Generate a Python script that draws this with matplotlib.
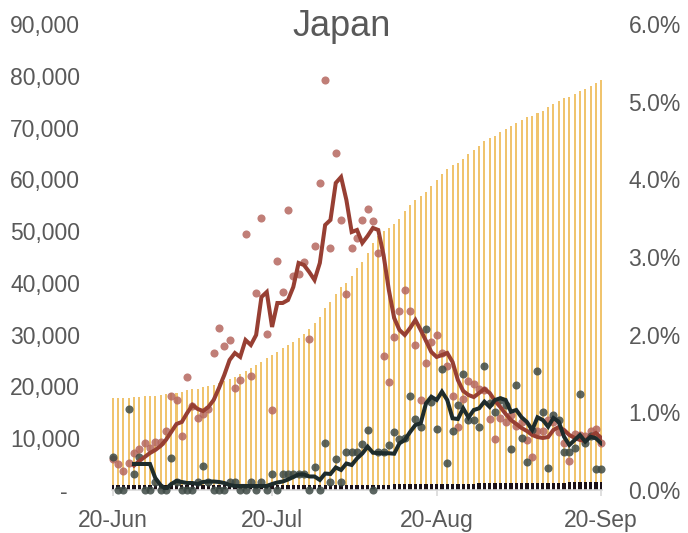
import numpy as np
import matplotlib
matplotlib.use("Agg")
import matplotlib.pyplot as plt
from matplotlib.ticker import FuncFormatter

plt.rcParams["font.family"] = ["Liberation Sans", "DejaVu Sans"]

# ---------------------------------------------------------------- palette
C_CUM = "#F0C46E"     # cumulative cases (bars)
C_DEATHS = "#1B1016"  # cumulative deaths (bars)
C_RED_DOT = "#B5675F"
C_RED_LINE = "#973F33"
C_DARK_DOT = "#3E4A45"
C_DARK_LINE = "#1E2C2C"
C_TEXT = "#595959"

# ---------------------------------------------------------------- data (20-Jun .. 20-Sep, one value per day)
tick_days = [0, 30, 61, 92]
tick_labels = ["20-Jun", "20-Jul", "20-Aug", "20-Sep"]

cases_cum = [
    17710, 17750, 17790, 17850, 17900, 17960, 18060, 18150, 18250, 18350,
    18480, 18640, 18790, 18930, 19220, 19410, 19600, 19800, 20090, 20370,
    20660, 21050, 21440, 21920, 22400, 22890, 23470, 24140, 24720, 25400,
    25980, 26650, 27330, 28000, 28580, 29260, 30130, 31000, 32160, 33350,
    35090, 36250, 37850, 39260, 40040, 41330, 42820, 44090, 45830, 47700,
    49050, 50020, 50600, 51310, 52400, 53880, 55040, 56010, 56780, 57550,
    58710, 59870, 61030, 61940, 62710, 63210, 63920, 64830, 65660, 66490,
    67400, 67980, 68430, 69080, 69660, 70300, 70880, 71460, 71980, 72230,
    72750, 73200, 73910, 74550, 75190, 75650, 75900, 76480, 77000, 77440,
    78020, 78660, 79180,
]

deaths_cum = [
    955, 956, 963, 967, 971, 972, 972, 974, 976, 977,
    977, 977, 977, 977, 978, 981, 982, 982, 982, 983,
    984, 984, 985, 985, 985, 985, 985, 985, 985, 985,
    985, 986, 988, 988, 988, 990, 993, 994, 995, 998,
    1000, 1001, 1004, 1006, 1009, 1012, 1018, 1026, 1033, 1038,
    1045, 1054, 1058, 1064, 1076, 1084, 1097, 1108, 1120, 1133,
    1144, 1159, 1172, 1183, 1196, 1207, 1220, 1236, 1251, 1268,
    1282, 1294, 1303, 1319, 1335, 1346, 1357, 1369, 1387, 1395,
    1406, 1415, 1423, 1435, 1440, 1443, 1456, 1462, 1469, 1473,
    1479, 1485, 1488,
]

# daily rate (%), right axis
case_rate = [
    0.40, 0.33, 0.24, 0.35, 0.48, 0.53, 0.60, 0.54, 0.62, 0.62,
    0.76, 1.21, 1.16, 0.69, 1.45, 1.08, 0.93, 0.98, 1.04, 1.76,
    2.08, 1.85, 1.93, 1.31, 1.42, 3.29, 1.47, 2.54, 3.50, 2.01,
    1.03, 2.95, 2.55, 3.61, 2.76, 2.78, 2.93, 1.95, 3.14, 3.95,
    5.28, 3.11, 4.34, 3.48, 2.53, 3.12, 3.25, 3.48, 3.62, 3.46,
    3.05, 1.73, 1.39, 1.97, 2.31, 2.58, 2.30, 1.87, 1.16, 1.63,
    1.90, 2.00, 1.77, 1.60, 1.21, 0.81, 1.17, 1.40, 1.36, 1.30,
    1.29, 0.91, 0.66, 0.93, 0.87, 0.96, 0.82, 0.87, 0.65, 0.42,
    0.76, 0.76, 0.90, 0.87, 0.75, 0.60, 0.37, 0.72, 0.71, 0.70,
    0.76, 0.78, 0.61,
]

case_rate_avg = [
    np.nan, np.nan, np.nan, np.nan, 0.315, 0.373, 0.425, 0.476, 0.515, 0.567,
    0.644, 0.747, 0.850, 0.876, 0.991, 1.094, 1.043, 1.017, 1.069, 1.159,
    1.313, 1.481, 1.674, 1.764, 1.713, 1.931, 1.867, 1.996, 2.485, 2.549,
    2.099, 2.408, 2.408, 2.446, 2.614, 2.923, 2.897, 2.807, 2.704, 2.923,
    3.412, 3.477, 3.953, 4.030, 3.734, 3.322, 3.348, 3.181, 3.271, 3.374,
    3.348, 3.026, 2.575, 2.215, 2.060, 1.996, 2.086, 2.189, 2.060, 1.919,
    1.777, 1.713, 1.738, 1.764, 1.648, 1.416, 1.275, 1.223, 1.197, 1.249,
    1.301, 1.249, 1.146, 1.069, 0.979, 0.901, 0.850, 0.798, 0.760, 0.708,
    0.682, 0.670, 0.682, 0.773, 0.811, 0.773, 0.708, 0.670, 0.644, 0.631,
    0.695, 0.734, 0.670,
]

death_rate = [
    0.425, 0.0, 0.0, 1.049, 0.206, 0.421, 0.0, 0.0, 0.097, 0.0,
    0.0, 0.412, 0.107, 0.0, 0.0, 0.0, 0.107, 0.305, 0.107, 0.0,
    0.0, 0.0, 0.107, 0.107, 0.0, 0.0, 0.107, 0.0, 0.107, 0.0,
    0.206, 0.0, 0.206, 0.206, 0.206, 0.206, 0.206, 0.0, 0.300, 0.0,
    0.601, 0.099, 0.399, 0.099, 0.489, 0.489, 0.489, 0.586, 0.773, 0.0,
    0.489, 0.489, 0.579, 0.751, 0.657, 0.670, 1.210, 0.910, 0.815, 2.073,
    1.137, 0.782, 1.554, 0.344, 0.764, 1.094, 1.494, 0.901, 0.901, 0.807,
    1.597, 1.120, 1.008, 1.159, 1.094, 0.534, 1.352, 0.666, 0.364, 0.773,
    1.532, 1.004, 0.283, 0.966, 0.901, 0.485, 0.485, 0.547, 1.232, 0.601,
    0.695, 0.264, 0.264,
]

death_rate_avg = [
    np.nan, np.nan, np.nan, np.nan, 0.335, 0.335, 0.335, 0.335, 0.155, 0.064,
    0.010, 0.077, 0.116, 0.103, 0.090, 0.090, 0.077, 0.103, 0.109, 0.109,
    0.103, 0.090, 0.064, 0.052, 0.052, 0.052, 0.052, 0.052, 0.052, 0.052,
    0.077, 0.097, 0.109, 0.135, 0.167, 0.200, 0.200, 0.174, 0.174, 0.129,
    0.212, 0.206, 0.290, 0.258, 0.341, 0.322, 0.406, 0.470, 0.558, 0.480,
    0.476, 0.473, 0.473, 0.467, 0.601, 0.644, 0.747, 0.837, 0.859, 1.116,
    1.201, 1.159, 1.266, 1.159, 0.923, 0.914, 1.052, 0.934, 1.030, 1.052,
    1.137, 1.069, 1.159, 1.181, 1.159, 1.008, 1.030, 0.936, 0.876, 0.773,
    0.936, 0.901, 0.815, 0.927, 0.879, 0.686, 0.579, 0.644, 0.708, 0.622,
    0.686, 0.666, 0.601,
]

days = np.arange(len(cases_cum))

# ---------------------------------------------------------------- canvas
fig = plt.figure(figsize=(6.88, 5.33), dpi=100)
ax = fig.add_axes([112 / 688, 1 - 490 / 533, 490 / 688, 466 / 533])
ax2 = ax.twinx()

# bars (left axis)
ax.bar(days, cases_cum, width=0.38, color=C_CUM, linewidth=0, zorder=1)
ax.bar(days, deaths_cum, width=0.62, color=C_DEATHS, linewidth=0, zorder=2)

# rates (right axis)
ax2.scatter(days, case_rate, s=34, color=C_RED_DOT, alpha=0.85, linewidths=0,
            zorder=3, clip_on=False)
ax2.scatter(days, death_rate, s=34, color=C_DARK_DOT, alpha=0.85, linewidths=0,
            zorder=4, clip_on=False)
ax2.plot(days, case_rate_avg, color=C_RED_LINE, lw=2.9, zorder=5,
         solid_joinstyle="miter")
ax2.plot(days, death_rate_avg, color=C_DARK_LINE, lw=2.9, zorder=6,
         solid_joinstyle="miter")

# ---------------------------------------------------------------- axes
ax.set_xlim(-0.15, 92.15)
ax.set_ylim(0, 90000)
ax2.set_ylim(0, 6)
ax.set_yticks(np.arange(0, 90001, 10000))
ax2.set_yticks(np.arange(0, 6.01, 1))
ax.yaxis.set_major_formatter(FuncFormatter(lambda v, p: "-  " if v == 0 else f"{v:,.0f}"))
ax2.yaxis.set_major_formatter(FuncFormatter(lambda v, p: f"{v:.1f}%"))
ax.set_xticks(tick_days)
ax.set_xticklabels(tick_labels)

for a in (ax, ax2):
    for s in a.spines.values():
        s.set_visible(False)
ax.spines["bottom"].set_visible(True)
ax.spines["bottom"].set_color("#D9D9D9")
ax.spines["bottom"].set_linewidth(1.2)

ax.tick_params(axis="x", colors="#D9D9D9", length=4, width=1.2, pad=10,
               labelsize=16.5, labelcolor=C_TEXT)
ax.tick_params(axis="y", length=0, pad=23, labelsize=16.5, labelcolor=C_TEXT)
ax2.tick_params(axis="y", length=0, pad=19, labelsize=16.5, labelcolor=C_TEXT)

fig.text(0.497, 0.951, "Japan", ha="center", va="center", fontsize=26, color=C_TEXT)

fig.savefig("out.png", dpi=100)
